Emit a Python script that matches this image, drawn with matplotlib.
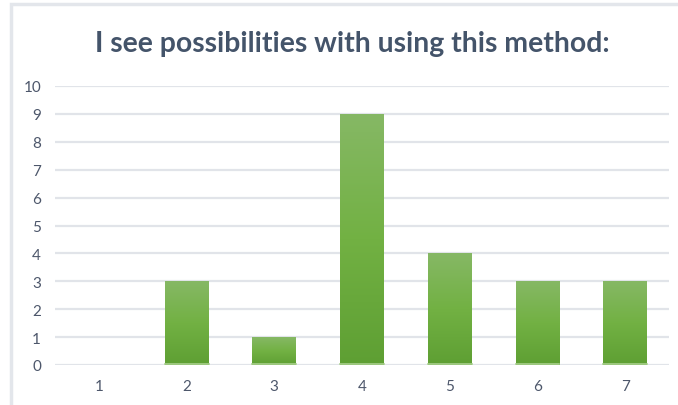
import matplotlib
matplotlib.use("Agg")
import matplotlib.pyplot as plt
import numpy as np
from matplotlib.patches import Rectangle
from matplotlib.colors import LinearSegmentedColormap

categories = ["1", "2", "3", "4", "5", "6", "7"]
values = [0, 3, 1, 9, 4, 3, 3]
yticks = list(range(0, 11))
title = "I see possibilities with using this method:"

W, H = 678, 406
fig = plt.figure(figsize=(W / 100, H / 100), dpi=100)
fig.patch.set_facecolor("white")

# outer chart frame
fig.add_artist(Rectangle((10.5 / W, -0.05), 1.2, (H - 5) / H + 0.05, transform=fig.transFigure,
                         fill=False, edgecolor="#e3e6eb", linewidth=2.5))

ax = fig.add_axes([55 / W, 1 - 366 / H, (669 - 55) / W, (366 - 87) / H])
ax.set_facecolor("white")
x = np.arange(len(categories))
bars = ax.bar(x, values, width=0.5, color="none", edgecolor="none", zorder=3)

cmap = LinearSegmentedColormap.from_list("g", ["#5e9f33", "#72b143", "#86b865"])
grad = np.linspace(0, 1, 256).reshape(-1, 1)
for b in bars:
    h = b.get_height()
    if h <= 0:
        continue
    x0 = b.get_x()
    im = ax.imshow(grad, extent=[x0, x0 + b.get_width(), 0, h], origin="lower",
                   aspect="auto", cmap=cmap, zorder=3)
    im.set_clip_path(b)
    ax.plot([x0, x0 + b.get_width()], [0.04, 0.04], color="#a9d08e", lw=1.2, zorder=4)

ax.set_xlim(-0.5, len(categories) - 0.5)
ax.set_ylim(0, 10)
ax.set_yticks(yticks)
ax.set_xticks(x)
ax.set_xticklabels(categories)
ax.grid(axis="y", color="#e1e4e9", linewidth=1.6, zorder=0)
ax.set_axisbelow(True)
for s in ax.spines.values():
    s.set_visible(False)
ax.tick_params(length=0, labelsize=11, colors="#4d576b")
ax.tick_params(axis="x", pad=10)
ax.tick_params(axis="y", pad=10)
for lab in ax.get_xticklabels() + ax.get_yticklabels():
    lab.set_fontfamily(["Lato", "DejaVu Sans"])

t = fig.text(352 / W, 1 - 44 / H, title, ha="center", va="center", fontsize=18.5,
             fontweight="bold", color="#44546a", family=["Lato", "DejaVu Sans"])
# fit title to the reference width (~518 px)
r = fig.canvas.get_renderer()
wpx = t.get_window_extent(renderer=r).width
t.set_fontsize(18.5 * 518 / wpx)

fig.savefig("out.png", dpi=100)
